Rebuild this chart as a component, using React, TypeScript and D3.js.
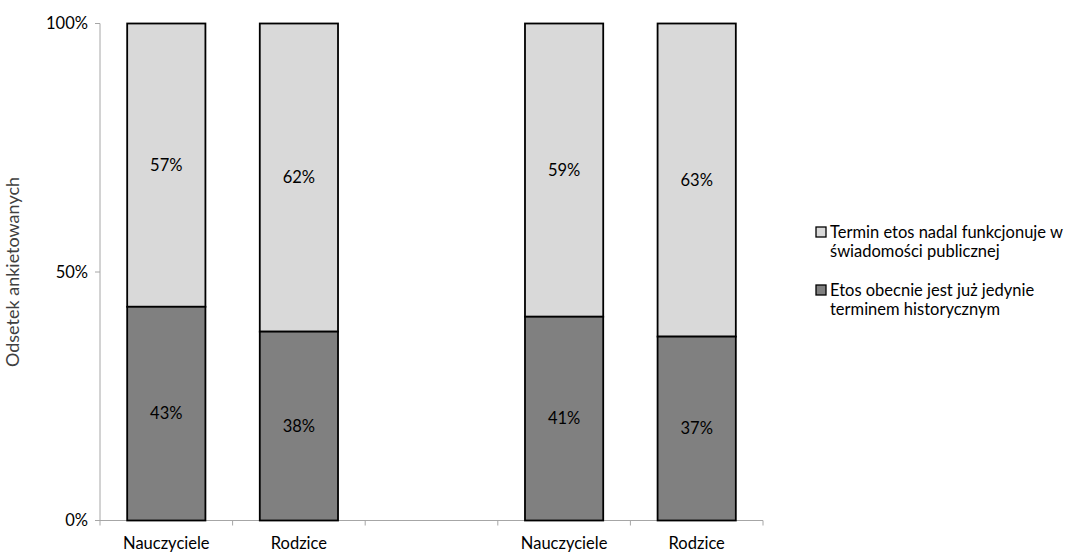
import React from "react";
import * as d3 from "d3";

const categories = ["Nauczyciele", "Rodzice", "", "Nauczyciele", "Rodzice"];
const historyczny = [43, 38, null, 41, 37];
const funkcjonuje = [57, 62, null, 59, 63];
const yTicks = [0, 50, 100];
const seriesNames = [
  ["Termin etos nadal funkcjonuje w", "świadomości publicznej"],
  ["Etos obecnie jest już jedynie", "terminem historycznym"],
];
const yTitle = "Odsetek ankietowanych";

const W = 1078, H = 555;
const left = 100, right = 763, top = 23.5, bottom = 520.5;
const font = "Lato, sans-serif";
const FS = 16.5;
const LIGHT = "#d9d9d9", DARK = "#808080";

export default function App() {
  const x = d3.scaleBand<number>().domain(d3.range(categories.length)).range([left, right]).paddingInner(0.41).paddingOuter(0.205);
  const y = d3.scaleLinear().domain([0, 100]).range([bottom, top]);
  const step = (right - left) / categories.length;
  return (
    <svg width={W} height={H} style={{ position: "absolute", left: 0, top: 0 }}>
      <rect width={W} height={H} fill="#fff" />
      {/* axes */}
      <line x1={left} x2={left} y1={top} y2={bottom} stroke="#a6a6a6" />
      <line x1={left} x2={right} y1={bottom} y2={bottom} stroke="#a6a6a6" />
      {yTicks.map((t) => (
        <g key={t}>
          <line x1={left - 5} x2={left} y1={y(t)} y2={y(t)} stroke="#a6a6a6" />
          <text x={left - 12} y={y(t)} dy="0.35em" textAnchor="end" fontFamily={font} fontSize={FS} fill="#000">{t}%</text>
        </g>
      ))}
      {d3.range(categories.length + 1).map((i) => (
        <line key={i} x1={left + i * step} x2={left + i * step} y1={bottom} y2={bottom + 5} stroke="#a6a6a6" />
      ))}
      {categories.map((c, i) => (
        <text key={i} x={left + (i + 0.5) * step} y={549} textAnchor="middle" fontFamily={font} fontSize={FS} fill="#000">{c}</text>
      ))}
      <text transform={`translate(19,${(top + bottom) / 2}) rotate(-90)`} textAnchor="middle" fontFamily={font} fontSize={18} fill="#404040">{yTitle}</text>
      {/* bars */}
      {categories.map((c, i) => {
        const h = historyczny[i];
        const f = funkcjonuje[i];
        if (h == null || f == null) return null;
        const bx = x(i)!, bw = x.bandwidth();
        return (
          <g key={i}>
            <rect x={bx} y={y(h + f)} width={bw} height={y(h) - y(h + f)} fill={LIGHT} stroke="#000" strokeWidth={1.8} />
            <rect x={bx} y={y(h)} width={bw} height={y(0) - y(h)} fill={DARK} stroke="#000" strokeWidth={1.8} />
            <text x={bx + bw / 2} y={(y(h) + y(h + f)) / 2} dy="0.35em" textAnchor="middle" fontFamily={font} fontSize={FS}>{f}%</text>
            <text x={bx + bw / 2} y={(y(0) + y(h)) / 2} dy="0.35em" textAnchor="middle" fontFamily={font} fontSize={FS}>{h}%</text>
          </g>
        );
      })}
      {/* legend */}
      {seriesNames.map((lines, k) => {
        const ly = k === 0 ? 232 : 290;
        return (
          <g key={k}>
            <rect x={816} y={ly - 5} width={10} height={10} fill={k === 0 ? LIGHT : DARK} stroke="#000" strokeWidth={1.3} />
            {lines.map((ln, j) => (
              <text key={j} x={830} y={ly + j * 19.5} dy="0.35em" fontFamily={font} fontSize={FS} fill="#000">{ln}</text>
            ))}
          </g>
        );
      })}
    </svg>
  );
}
